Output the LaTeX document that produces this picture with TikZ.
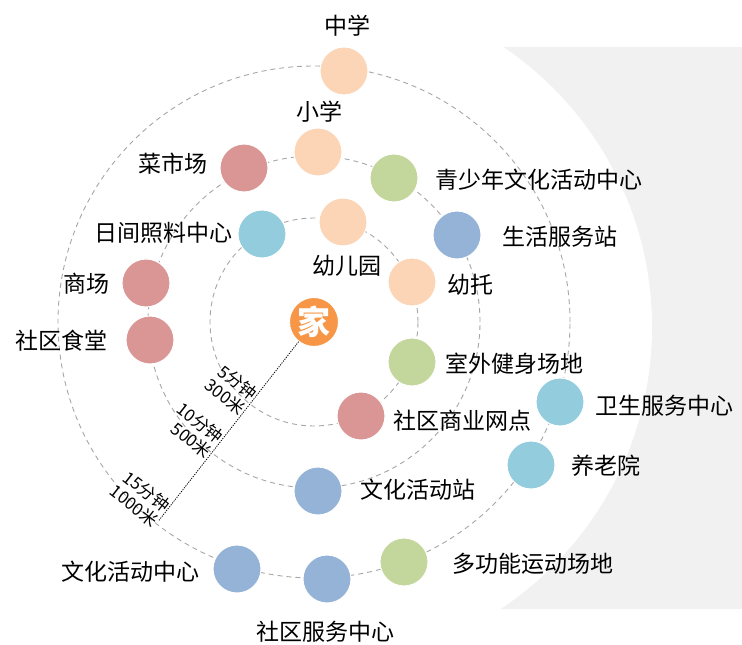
\documentclass[tikz,border=0pt]{standalone}
\usepackage{fontspec}
\setmainfont{Noto Sans CJK SC}
\usetikzlibrary{calc}

\definecolor{peach}{HTML}{FBD5B5}
\definecolor{leaf}{HTML}{C3D69B}
\definecolor{slate}{HTML}{95B3D7}
\definecolor{aqua}{HTML}{93CDDD}
\definecolor{rose}{HTML}{D99694}
\definecolor{homeorange}{HTML}{F79646}
\definecolor{ringgray}{HTML}{A6A6A6}
\definecolor{backgray}{HTML}{F1F1F1}

\newcommand\tagfont{\fontsize{23}{26}\selectfont}
\newcommand\walkfont{\fontsize{17}{19}\selectfont}
\newcommand\innerr{104pt}
\newcommand\middler{166pt}
\newcommand\outerr{256pt}

\tikzset{
  spot/.style={circle, minimum size=48pt, inner sep=0pt, draw=white, line width=1pt},
  tag/.style={inner sep=0pt, font=\tagfont},
  ring/.style={draw=ringgray, line width=0.9pt, dash pattern=on 5pt off 4pt},
  walk/.style={line width=0.8pt, dash pattern=on 1.2pt off 1.2pt},
  walktag/.style={inner sep=1pt, anchor=east, align=right, rotate=-38, font=\walkfont}
}

% one facility: circle and its name
\newcommand\facility[6]{
  \node[spot, fill=#2] (#1) at (#3) {};
  \node[tag, anchor=#4] (#1-name) at (#5) {#6};
}

\begin{document}
\begin{tikzpicture}[x=1pt, y=-1pt]
    \useasboundingbox (0,0) rectangle (742,645);
    % grey backdrop with the round cut-out
    \begin{scope}
      \clip (480,47) rectangle (742,609);
      \fill[backgray] (480,47) rectangle (742,609);
      \fill[white] (314,327) circle[radius=338pt];
    \end{scope}
    \coordinate (hc) at (314,322);
    \draw[ring] (hc) circle[radius=\innerr];
    \draw[ring] (hc) circle[radius=\middler];
    \draw[ring] (hc) circle[radius=\outerr];

    \node[spot, fill=homeorange, minimum size=49pt, text=white,
          font=\fontsize{33}{33}\selectfont\bfseries] (home) at (hc) {家};

    \facility{zhongxue}{peach}{344,71}{center}{347,26}{中学}
    \facility{xiaoxue}{peach}{318,152}{center}{319,112}{小学}
    \facility{caishichang}{rose}{244,168}{east}{208,164}{菜市场}
    \facility{rijian}{aqua}{262,234}{east}{233,233}{日间照料中心}
    \facility{shangchang}{rose}{146,283}{east}{110,284}{商场}
    \facility{shitang}{rose}{150,340}{east}{108,341}{社区食堂}
    \facility{youeryuan}{peach}{343,222}{center}{347,266}{幼儿园}
    \facility{youtuo}{peach}{412,282}{west}{447,285}{幼托}
    \facility{qingshaonian}{leaf}{394,178}{west}{435,180}{青少年文化活动中心}
    \facility{shenghuo}{slate}{457,235}{west}{502,237}{生活服务站}
    \facility{jianshen}{leaf}{412,362}{west}{445,364}{室外健身场地}
    \facility{shangye}{rose}{361,416}{west}{393,421}{社区商业网点}
    \facility{weisheng}{aqua}{560,402}{west}{595,406}{卫生服务中心}
    \facility{yanglao}{aqua}{531,465}{west}{571,466}{养老院}
    \facility{wenhuazhan}{slate}{318,491}{west}{360,490}{文化活动站}
    \facility{wenhuazhongxin}{slate}{237,569}{east}{200,572}{文化活动中心}
    \facility{fuwuzhongxin}{slate}{327,579}{center}{325,632}{社区服务中心}
    \facility{yundong}{leaf}{404,562}{west}{452,564}{多功能运动场地}

    % walking distance scale
    \coordinate (tip) at ($(hc)+(-0.616*252,0.788*252)$);
    \draw[walk] (home) -- (tip);
    \node[walktag] (five) at ($(hc)+(-0.616*104,0.788*104)$) {5分钟\\300米};
    \node[walktag] (ten) at ($(hc)+(-0.616*159,0.788*159)$) {10分钟\\500米};
    \node[walktag] (fifteen) at ($(hc)+(-0.616*246,0.788*246)$) {15分钟\\1000米};
  \end{tikzpicture}
\end{document}
